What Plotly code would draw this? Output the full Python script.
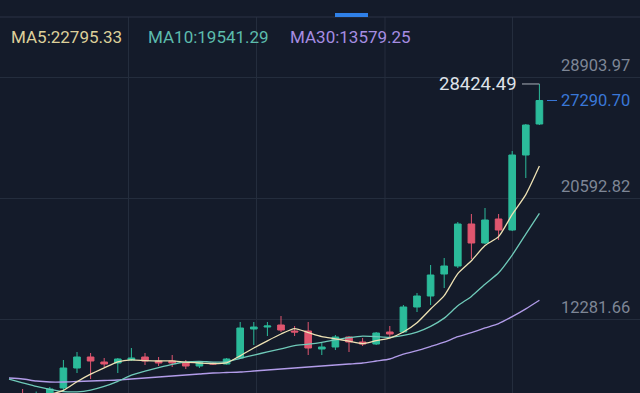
import numpy as np
import pandas as pd
import plotly.graph_objects as go

# ---- data (prices) ----
idx = list(range(40))
opens = [6600, 6900, 6850, 7060, 7542, 8916, 9671, 9328, 9259, 9465,
         9671, 9397, 9397, 9259, 9053, 9259, 9190, 9603, 11594, 11731,
         11869, 11457, 11457, 10221, 10358, 11045, 10701, 10564, 11388, 11388,
         13105, 13861, 15372, 15922, 18806, 17501, 19150, 18394, 23546, 25676]
closes = [6700, 6800, 7000, 7474, 8916, 9671, 9397, 9190, 9534, 9603,
          9397, 9259, 9259, 9053, 9328, 9190, 9534, 11663, 11731, 11800,
          11525, 11388, 10289, 10358, 11045, 10701, 10564, 11319, 11251, 13105,
          13861, 15303, 15922, 18806, 17501, 19081, 18394, 23546, 25607, 27290.70]
highs = [6760, 7474, 7300, 7610, 9465, 10015, 9946, 9603, 9603, 10289,
         9946, 9671, 9809, 9465, 9397, 9328, 9603, 12075, 12075, 12075,
         12487, 11800, 12075, 10633, 11182, 11113, 10976, 11388, 11800, 13243,
         14066, 15990, 16471, 18943, 19493, 19905, 19493, 23821, 25676, 28424.49]
lows = [6500, 6650, 6780, 6990, 7405, 8572, 8160, 8984, 8572, 9397,
        9122, 9053, 8984, 8847, 8916, 9122, 9150, 9534, 10495, 11113,
        11388, 11113, 9809, 9809, 10152, 10015, 10427, 10495, 11045, 11319,
        12761, 13243, 14410, 15784, 16402, 17432, 17707, 18325, 21966, 25607]

# moving-average values before a full window exists
ma5_lead = [6750, 6800, 6900, 7100]
ma10_lead = [8150, 7900, 7650, 7450, 7300, 7280, 7400, 7650, 8000]
ma30_lead = [8228, 8160, 8022, 7954, 7954, 7988, 8022, 8057, 8091, 8160,
             8228, 8297, 8366, 8434, 8503, 8572, 8606, 8640, 8709, 8778,
             8846, 8915, 8984, 9053, 9121, 9190, 9259, 9396, 9534]

axis_ticks = [12281.66, 20592.82, 28903.97]
axis_tick_text = ["12281.66", "20592.82", "28903.97"]
ma_labels = ["MA5:22795.33", "MA10:19541.29", "MA30:13579.25"]
high_label = "28424.49"
last_label = "27290.70"


def moving_avg(n, lead):
    v = pd.Series(closes, dtype=float).rolling(n).mean().to_numpy()
    v[:n - 1] = lead
    return v


ma5 = moving_avg(5, ma5_lead)
ma10 = moving_avg(10, ma10_lead)
ma30 = moving_avg(30, ma30_lead)

# ---- styling ----
BG = "#141b2a"
GRID = "#242d3d"
GREEN = "#2bbb9a"
RED = "#e0566f"
C_MA5 = "#eee2b4"
C_MA10 = "#6fcab9"
C_MA30 = "#b29ce9"
FONT = "Roboto"

W, H = 640, 393
PX_PER_I = 13.6
X0 = 9.0
xr = [(0 - X0) / PX_PER_I, (W - X0) / PX_PER_I]
ppp = (28903.97 - 20592.82) / 121.0
yr = [28903.97 - (H - 77) * ppp, 28903.97 + 77 * ppp]


def xi(px):
    return (px - X0) / PX_PER_I


fig = go.Figure()
fig.add_trace(go.Candlestick(
    x=idx, open=opens, high=highs, low=lows, close=closes,
    increasing=dict(line=dict(color=GREEN, width=1), fillcolor=GREEN),
    decreasing=dict(line=dict(color=RED, width=1), fillcolor=RED),
    whiskerwidth=0, showlegend=False, hoverinfo="skip",
))
for vals, col in [(ma30, C_MA30), (ma10, C_MA10), (ma5, C_MA5)]:
    fig.add_trace(go.Scatter(x=idx, y=vals, mode="lines",
                             line=dict(color=col, width=1.3, shape="spline", smoothing=0.6),
                             showlegend=False, hoverinfo="skip"))

shapes = []
# vertical grid lines
for px in [128.5, 256.5, 385, 512.5]:
    shapes.append(dict(type="line", xref="x", yref="paper", x0=xi(px), x1=xi(px),
                       y0=0, y1=1 - 17 / H, line=dict(color=GRID, width=1), layer="below"))
# header line and tab indicator
shapes.append(dict(type="line", xref="paper", yref="paper", x0=0, x1=1,
                   y0=1 - 17 / H, y1=1 - 17 / H, line=dict(color="#2a3344", width=1)))
shapes.append(dict(type="rect", xref="paper", yref="paper", x0=335 / W, x1=368 / W,
                   y0=1 - 17 / H, y1=1 - 13 / H, fillcolor="#2f80e8", line=dict(width=0)))
# high marker connector
shapes.append(dict(type="line", xref="x", yref="y", x0=xi(522), x1=39,
                   y0=highs[-1], y1=highs[-1], line=dict(color="#aab0ba", width=1)))
# last price dash
shapes.append(dict(type="line", xref="x", yref="y", x0=xi(547), x1=xi(557),
                   y0=closes[-1], y1=closes[-1], line=dict(color="#3a78d8", width=1)))

annotations = []
for v, t in zip(axis_ticks, axis_tick_text):
    annotations.append(dict(x=632 / W, xref="paper", xanchor="right", y=v, yref="y",
                            yanchor="bottom", yshift=0, text=t, showarrow=False,
                            font=dict(family=FONT, size=16.5, color="#7e8696")))
annotations.append(dict(x=632 / W, xref="paper", xanchor="right", y=closes[-1], yref="y",
                        yanchor="middle", text=last_label, showarrow=False,
                        font=dict(family=FONT, size=16.5, color="#3a78d8")))
annotations.append(dict(x=xi(519), xref="x", xanchor="right", y=highs[-1], yref="y",
                        yanchor="middle", text=high_label, showarrow=False,
                        font=dict(family=FONT, size=18.5, color="#dfe2e8")))
for txt, px, col in zip(ma_labels, [9, 146, 288], ["#ddd09a", "#5cbcad", "#a68de2"]):
    annotations.append(dict(x=px / W, xref="paper", xanchor="left", y=1 - 37 / H, yref="paper",
                            yanchor="middle", text=txt, showarrow=False,
                            font=dict(family=FONT, size=17, color=col)))

fig.update_layout(
    width=W, height=H, margin=dict(l=0, r=0, t=0, b=0),
    paper_bgcolor=BG, plot_bgcolor=BG,
    xaxis=dict(range=xr, showgrid=False, zeroline=False, visible=False,
               rangeslider=dict(visible=False)),
    yaxis=dict(range=yr, tickvals=axis_ticks, showticklabels=False, showgrid=True,
               gridcolor=GRID, gridwidth=1, zeroline=False, showline=False),
    shapes=shapes, annotations=annotations, showlegend=False,
)
fig.write_html("out.html", config={"displayModeBar": False},
               post_script="document.body.style.margin='0px';document.body.style.overflow='hidden';")
